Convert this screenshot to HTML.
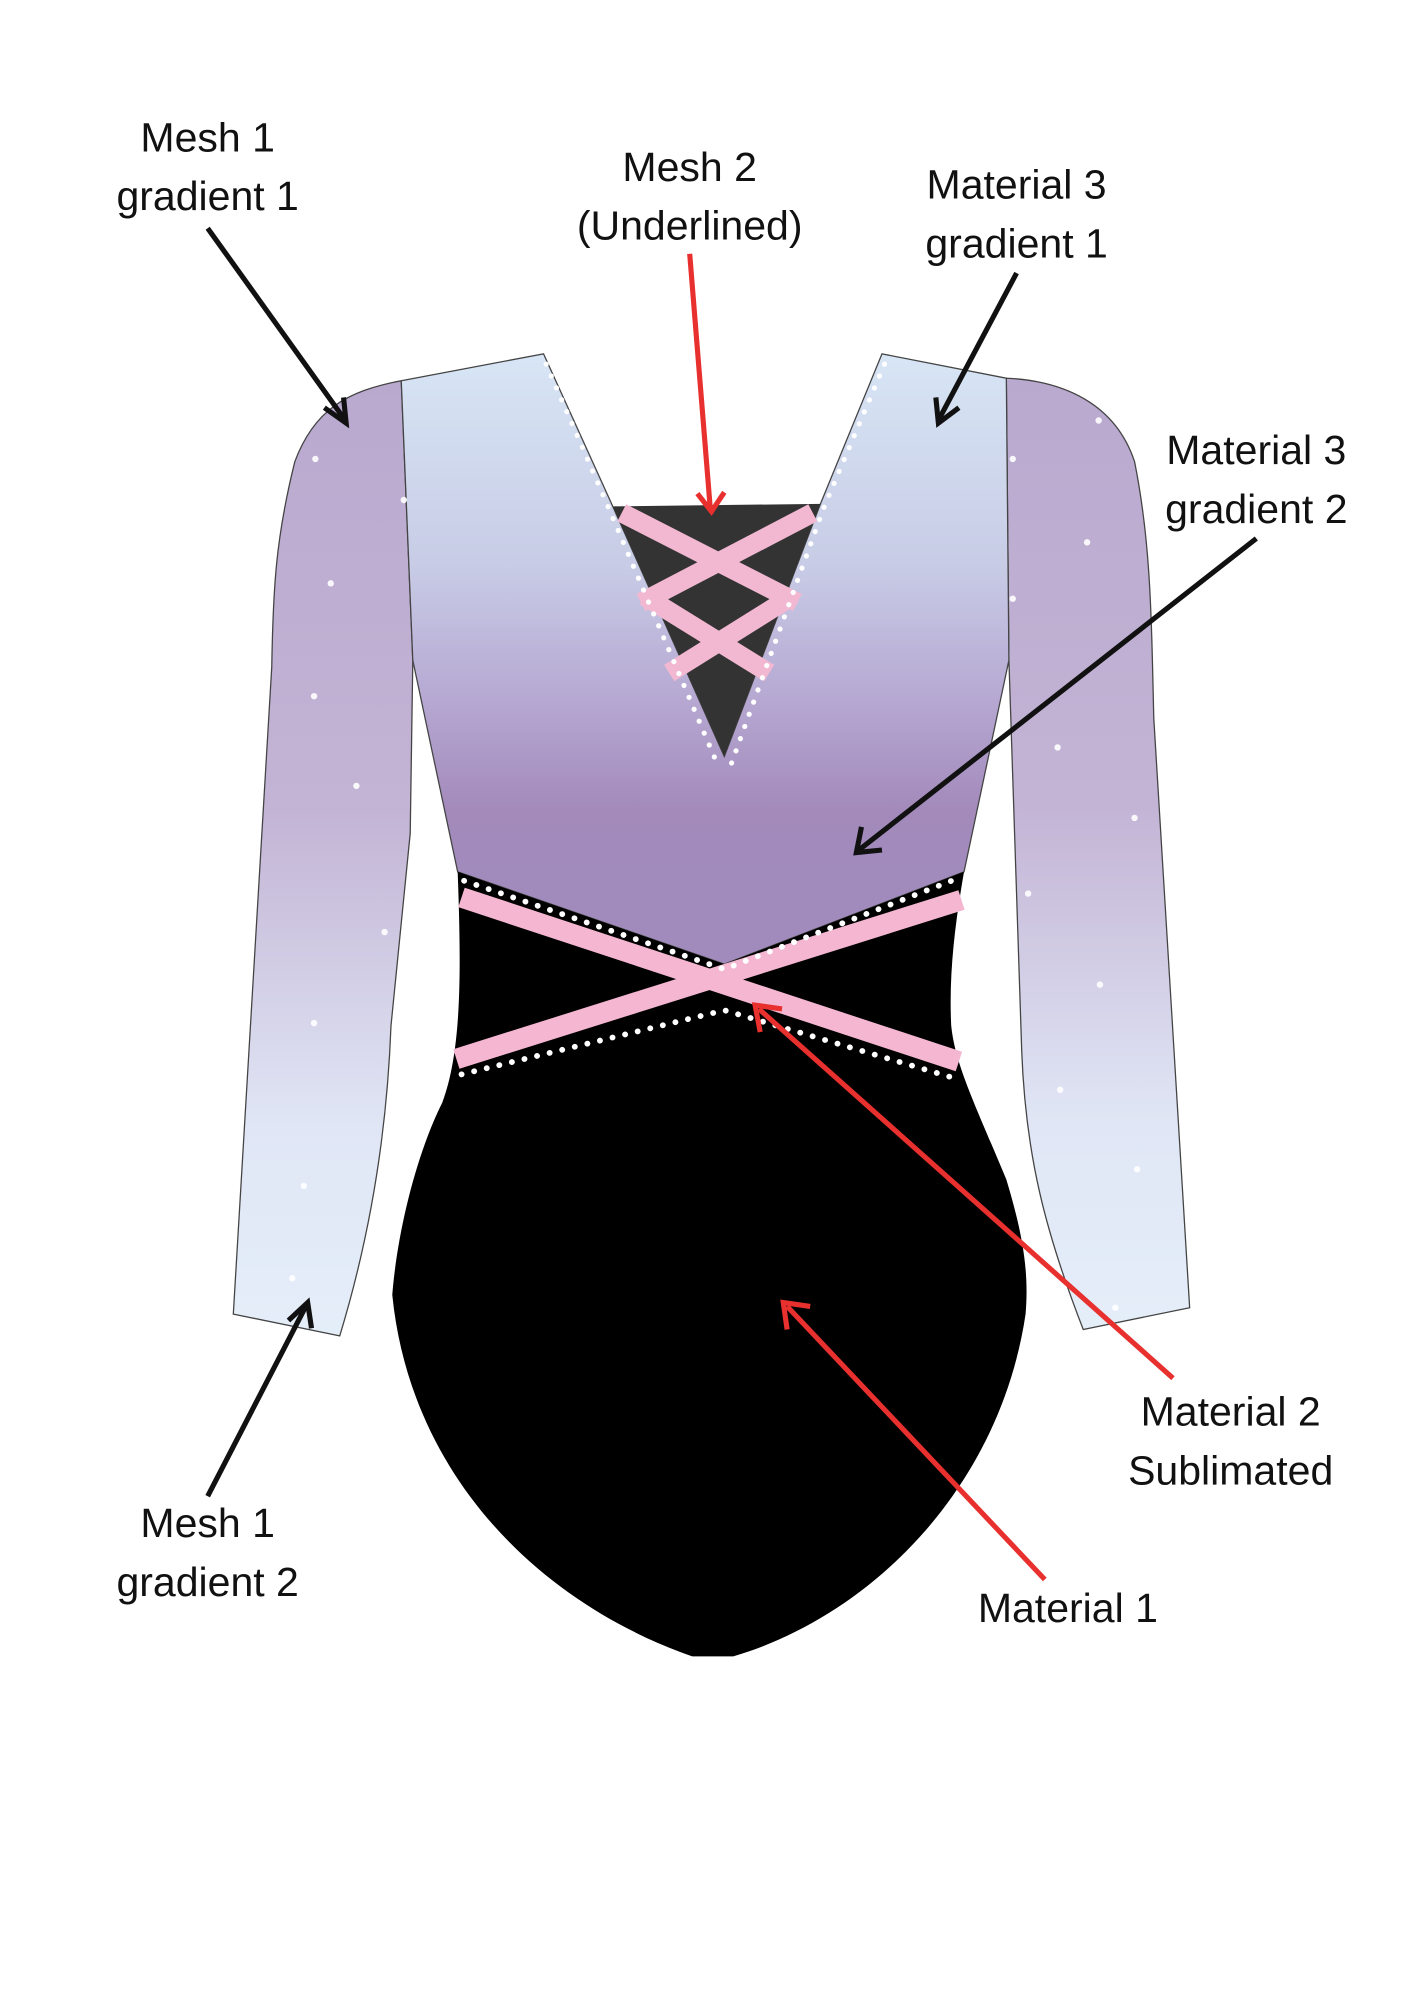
<!DOCTYPE html>
<html><head><meta charset="utf-8"><style>
html,body{margin:0;padding:0;background:#fff;}
svg{display:block}
text{font-family:"Liberation Sans",sans-serif;font-size:32px;fill:#111;text-anchor:middle}
</style></head><body>
<svg width="1414" height="2000" viewBox="0 0 1103 1560" preserveAspectRatio="none" xmlns="http://www.w3.org/2000/svg">
<defs>
<linearGradient id="sl" x1="0" y1="0" x2="0" y2="1">
<stop offset="0" stop-color="#b9a9cf"/><stop offset="0.45" stop-color="#c3b4d5"/><stop offset="0.78" stop-color="#e0e6f5"/><stop offset="1" stop-color="#e4eef9"/></linearGradient>
<linearGradient id="bd" x1="0" y1="280" x2="0" y2="680" gradientUnits="userSpaceOnUse">
<stop offset="0" stop-color="#d7e5f5"/><stop offset="0.4" stop-color="#c8cce6"/><stop offset="0.65" stop-color="#b7aad3"/><stop offset="0.88" stop-color="#a38abb"/><stop offset="1" stop-color="#a18bbc"/></linearGradient>
</defs>
<path d="M313,297 C270,305 245,320 230,360 C215,420 213,460 212,520 L182,1025 L265,1042 C290,960 302,880 305,800 L320,650 L322,515 Z" fill="url(#sl)" stroke="#444" stroke-width="1"/>
<path d="M785,295 C830,297 870,315 885,360 C897,420 898,470 900,560 L928,1020 L845,1037 C815,960 800,900 797,820 L787,515 Z" fill="url(#sl)" stroke="#444" stroke-width="1"/>
<path d="M313,297 L424,276 L478,395 L565,590 L640,393 L688,276 L785,295 L787,515 L752,680 L565,752 L357,680 L322,515 Z" fill="url(#bd)" stroke="#444" stroke-width="1"/>
<path d="M478,395 L640,393 L565,590 Z" fill="#333"/>
<g stroke="#f2b8d1" stroke-width="15" fill="none">
<path d="M485,400 L622,470"/><path d="M634,400 L500,470"/>
<path d="M503,465 L600,525"/><path d="M618,465 L522,525"/>
</g>
<path d="M357,680 L565,752 L752,680 C745,720 740,760 742,800 C745,830 760,860 785,920 C797,960 803,990 800,1025 C780,1160 680,1260 572,1292 L540,1292 C420,1250 320,1150 306,1010 C310,960 325,900 345,860 C360,820 360,760 357,680 Z" fill="#000"/>
<g stroke="#f4b6d1" stroke-width="16">
<path d="M360,700 L748,828"/><path d="M356,826 L750,702"/>
</g>
<g fill="none" stroke="#fff" stroke-width="4.5" stroke-dasharray="0.1 10" stroke-linecap="round">
<path d="M362,687 L565,756 L750,684"/>
<path d="M360,838 L565,788 L748,842"/>
</g>
<g fill="none" stroke="#fff" stroke-width="4" stroke-dasharray="0.1 10" stroke-linecap="round">
<path d="M426,284 L473,392 L560,597"/>
<path d="M690,284 L643,395 L570,597"/>
</g>
<g fill="#fff" opacity="0.9">
<circle cx="246" cy="358" r="2.5"/><circle cx="315" cy="390" r="2.5"/><circle cx="258" cy="455" r="2.5"/><circle cx="245" cy="543" r="2.5"/><circle cx="278" cy="613" r="2.5"/><circle cx="300" cy="727" r="2.5"/><circle cx="245" cy="798" r="2.5"/><circle cx="237" cy="925" r="2.5"/><circle cx="228" cy="997" r="2.5"/>
<circle cx="857" cy="328" r="2.5"/><circle cx="790" cy="358" r="2.5"/><circle cx="848" cy="423" r="2.5"/><circle cx="790" cy="467" r="2.5"/><circle cx="825" cy="583" r="2.5"/><circle cx="885" cy="638" r="2.5"/><circle cx="802" cy="697" r="2.5"/><circle cx="858" cy="768" r="2.5"/><circle cx="827" cy="850" r="2.5"/><circle cx="887" cy="912" r="2.5"/><circle cx="870" cy="1020" r="2.5"/>
</g>
<g stroke-width="4" fill="none">
<path d="M162,178 L268,326" stroke="#111"/><path d="M253,318 L270,330 L268,310" stroke="#111"/>
<path d="M793,213 L733,326" stroke="#111"/><path d="M730,310 L732,330 L748,318" stroke="#111"/>
<path d="M980,420 L670,663" stroke="#111"/><path d="M672,645 L668,665 L688,663" stroke="#111"/>
<path d="M162,1167 L238,1020" stroke="#111"/><path d="M225,1030 L240,1016 L243,1036" stroke="#111"/>
<path d="M538,198 L554,396" stroke="#e8302e"/><path d="M544,385 L555,399 L565,384" stroke="#e8302e"/>
<path d="M915,1075 L592,787" stroke="#e8302e"/><path d="M593,805 L589,784 L610,787" stroke="#e8302e"/>
<path d="M815,1232 L614,1019" stroke="#e8302e"/><path d="M614,1037 L611,1016 L632,1019" stroke="#e8302e"/>
</g>
<text x="162" y="118">Mesh 1</text><text x="162" y="164">gradient 1</text>
<text x="538" y="141">Mesh 2</text><text x="538" y="187">(Underlined)</text>
<text x="793" y="155">Material 3</text><text x="793" y="201">gradient 1</text>
<text x="980" y="362">Material 3</text><text x="980" y="408">gradient 2</text>
<text x="162" y="1199">Mesh 1</text><text x="162" y="1245">gradient 2</text>
<text x="960" y="1112">Material 2</text><text x="960" y="1158">Sublimated</text>
<text x="833" y="1265">Material 1</text>
</svg>
</body></html>
